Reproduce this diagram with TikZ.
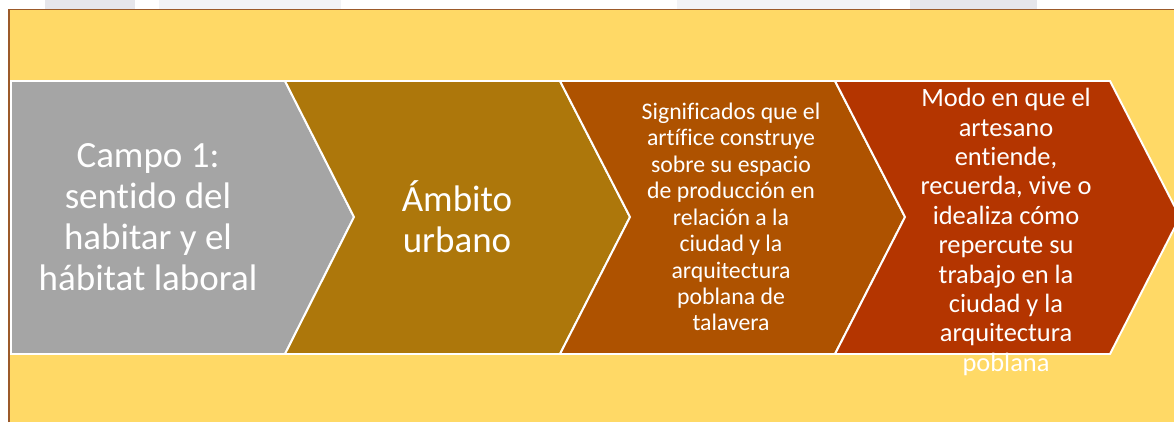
\documentclass[tikz,border=0pt]{standalone}
\usepackage{fontspec}
\setmainfont{Carlito}[Ligatures=NoCommon]
\usepackage{xcolor}
\definecolor{panel}{HTML}{FFD966}
\definecolor{rim}{HTML}{9C5A2A}
\definecolor{grisa}{HTML}{E6E6EB}
\definecolor{grisb}{HTML}{F2F3F6}
\definecolor{gris}{HTML}{A5A5A5}
\definecolor{oro}{HTML}{AD770B}
\definecolor{naranja}{HTML}{AE5200}
\definecolor{rojo}{HTML}{B43500}

\begin{document}
\begin{tikzpicture}[x=0.025cm, y=-0.025cm,
    chev/.style={draw=white, line width=1.4pt, line join=miter},
    big/.style={white, align=center, font=\fontsize{26.3}{29.2}\selectfont},
    small/.style={white, align=center, font=\fontsize{16.9}{18.8}\selectfont},
    mid/.style={white, align=center, font=\fontsize{18.8}{20.9}\selectfont}]
      \useasboundingbox (0,0) rectangle (1174,422);
      \clip (0,0) rectangle (1174,422);

      % background
      \fill[white] (0,0) rectangle (1174,422);
      \fill[grisa] (45,0) rectangle (135,9);
      \fill[grisb] (159,0) rectangle (341,9);
      \fill[grisb] (677,0) rectangle (880,9);
      \fill[grisa] (910,0) rectangle (1037,9);
      \fill[panel] (9,9.5) rectangle (1174,422);
      \draw[rim, line width=1.1pt] (9,422) -- (9,9.5) -- (1174,9.5);

      % chevrons
      \filldraw[chev, fill=gris] (11,81) -- (285,81) -- (354,217) -- (285,354) -- (11,354) -- cycle;
      \filldraw[chev, fill=oro] (285,81) -- (560,81) -- (630,217) -- (560,354) -- (285,354) -- (354,217) -- cycle;
      \filldraw[chev, fill=naranja] (560,81) -- (835,81) -- (905,217) -- (835,354) -- (560,354) -- (630,217) -- cycle;
      \filldraw[chev, fill=rojo] (835,81) -- (1110,81) -- (1180,217) -- (1110,354) -- (835,354) -- (905,217) -- cycle;

      % texts
      \node[big] (campo) at (148,217) {Campo 1:\\sentido del\\habitar y el\\hábitat laboral};
      \node[big] (ambito) at (457,217) {Ámbito\\urbano};
      \node[small] (signif) at (731,217) {Significados que el\\artífice construye\\sobre su espacio\\de producción en\\relación a la\\ciudad y la\\arquitectura\\poblana de\\talavera};
      \node[mid] (modo) at (1006,232) {Modo en que el\\artesano\\entiende,\\recuerda, vive o\\idealiza cómo\\repercute su\\trabajo en la\\ciudad y la\\arquitectura\\poblana};
\end{tikzpicture}
\end{document}
